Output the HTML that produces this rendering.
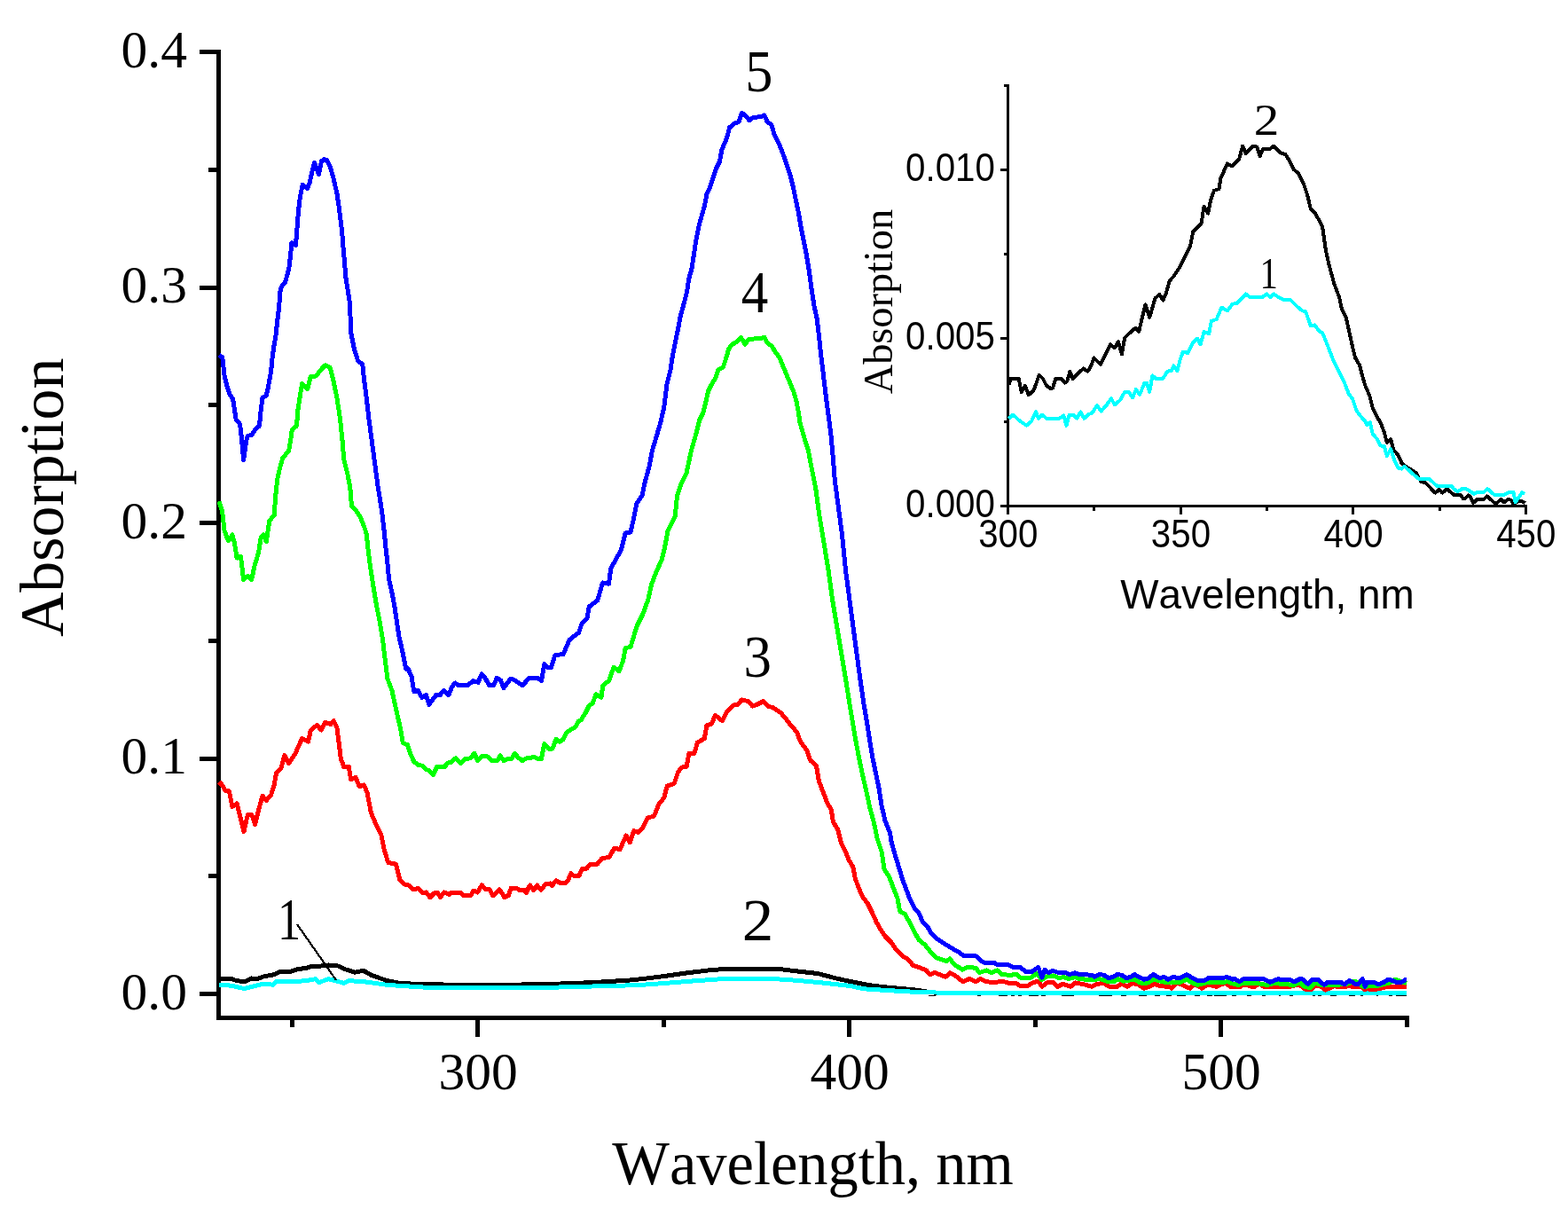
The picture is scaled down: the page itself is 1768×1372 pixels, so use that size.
<!DOCTYPE html><html><head><meta charset="utf-8"><title>Absorption spectra</title><style>html,body{margin:0;padding:0;background:#fff;overflow:hidden;}svg{display:block;}text{font-kerning:none;}</style></head><body>
<svg width="1768" height="1372" viewBox="0 0 1768 1372" shape-rendering="crispEdges">
<rect width="1768" height="1372" fill="#fff"/>
<g stroke="#000" stroke-width="5" fill="none"><line x1="225" y1="1120.5" x2="249" y2="1120.5"/><line x1="225" y1="855.0" x2="249" y2="855.0"/><line x1="225" y1="589.5" x2="249" y2="589.5"/><line x1="225" y1="324.0" x2="249" y2="324.0"/><line x1="225" y1="58.5" x2="249" y2="58.5"/><line x1="235" y1="987.8" x2="249" y2="987.8"/><line x1="235" y1="722.2" x2="249" y2="722.2"/><line x1="235" y1="456.8" x2="249" y2="456.8"/><line x1="235" y1="191.2" x2="249" y2="191.2"/><line x1="538.6" y1="1145" x2="538.6" y2="1169"/><line x1="957.6" y1="1145" x2="957.6" y2="1169"/><line x1="1376.6" y1="1145" x2="1376.6" y2="1169"/><line x1="329.1" y1="1145" x2="329.1" y2="1158"/><line x1="748.1" y1="1145" x2="748.1" y2="1158"/><line x1="1167.1" y1="1145" x2="1167.1" y2="1158"/><line x1="1586.1" y1="1145" x2="1586.1" y2="1158"/></g>
<path d="M246.5,56 V1147.5 H1588" stroke="#000" stroke-width="5" fill="none" stroke-linejoin="miter"/>
<polyline points="246.8,1103.4 260.4,1103.4 267.1,1105.7 276.6,1106.6 283.4,1103.0 290.2,1103.4 297.0,1101.0 307.9,1098.9 316.0,1095.5 326.9,1095.5 335.0,1092.8 345.9,1091.2 351.3,1089.4 362.2,1089.0 370.3,1088.0 381.2,1089.0 389.3,1092.8 400.2,1096.2 409.7,1094.2 419.2,1099.6 436.8,1105.7 450.4,1108.4 480.0,1109.8 554.8,1110.6 611.4,1109.6 639.7,1108.8 668.0,1107.6 696.2,1105.9 710.0,1105.0 724.1,1103.6 745.4,1101.0 773.6,1097.0 801.9,1093.5 823.1,1092.2 851.4,1092.2 876.9,1092.2 893.8,1094.4 922.1,1097.5 943.3,1103.1 960.0,1106.7 967.1,1108.1 980.7,1110.8 998.4,1112.9 1013.3,1114.2 1035.0,1116.3 1051.3,1119.0 1100.0,1119.5 1586.0,1119.5" fill="none" stroke="#000000" stroke-width="5" stroke-linejoin="round" stroke-linecap="butt"/>
<polyline points="246.8,1110.4 260.4,1111.1 275.3,1114.5 287.5,1111.5 297.0,1109.1 307.9,1110.2 311.9,1106.4 321.4,1106.1 335.0,1106.6 348.6,1105.0 355.4,1103.7 359.5,1107.7 370.3,1103.7 375.7,1105.0 388.0,1108.4 393.4,1105.7 409.7,1106.6 436.8,1110.4 480.0,1113.2 554.8,1113.5 611.4,1113.5 668.0,1112.0 720.0,1110.6 745.4,1108.8 780.7,1106.0 801.9,1104.5 823.1,1103.1 865.5,1103.1 893.8,1105.0 922.1,1107.4 960.0,1111.6 967.1,1113.6 980.7,1115.6 1001.1,1116.3 1014.7,1117.6 1035.0,1118.3 1055.4,1119.0 1075.7,1119.5 1586.0,1119.5" fill="none" stroke="#00ffff" stroke-width="5" stroke-linejoin="round" stroke-linecap="butt"/>
<polyline points="247.0,881.5 250.5,885.0 254.0,891.1 258.4,892.0 261.9,909.4 267.1,905.9 269.7,916.4 275.0,937.4 279.4,918.2 283.7,918.2 287.6,929.6 291.6,912.9 296.0,897.2 300.3,902.4 305.6,896.3 309.1,885.0 311.7,871.0 317.0,865.7 320.8,851.7 325.7,860.5 332.7,850.0 340.6,832.5 347.6,836.0 350.2,823.7 357.2,817.6 362.4,822.9 366.8,814.1 372.9,816.7 376.1,812.4 379.9,820.2 382.6,841.2 384.3,855.2 387.8,864.8 393.1,864.0 395.7,878.8 400.9,876.2 405.3,886.7 410.5,885.0 414.0,893.7 418.4,916.4 423.7,928.7 429.8,940.9 433.3,958.4 437.7,972.4 446.4,974.2 450.8,991.7 456.0,996.9 460.4,997.8 465.6,1003.0 471.8,1001.3 476.2,1006.6 480.6,1006.0 484.9,1011.6 489.3,1007.2 493.0,1006.0 496.8,1011.6 500.5,1006.0 506.7,1008.4 508.6,1006.0 519.2,1006.0 522.3,1009.7 530.4,1009.7 534.1,1004.1 538.4,1006.0 543.4,997.9 547.8,1002.8 552.1,1002.8 555.9,1009.7 563.3,1002.8 568.9,1011.6 573.3,1009.7 576.4,1001.0 582.0,1001.0 585.7,1003.5 591.3,1003.5 593.2,1006.6 597.6,997.9 601.9,1003.5 605.6,997.9 610.0,1003.5 615.0,996.6 620.6,996.0 622.4,998.5 626.8,992.9 631.8,995.4 637.4,995.4 640.5,992.3 643.6,984.8 646.7,987.3 652.9,987.3 656.7,979.2 661.6,979.2 665.4,974.2 673.5,974.2 678.4,968.0 687.1,966.1 692.8,956.0 699.0,957.7 706.0,942.0 710.3,949.9 714.7,936.7 720.0,938.5 725.2,932.4 730.4,921.9 737.4,920.1 742.7,907.0 748.8,899.1 752.3,886.0 760.2,883.4 764.6,870.3 768.9,865.0 774.2,864.2 776.8,849.3 782.9,849.3 786.4,837.1 794.3,832.7 796.9,817.8 802.2,816.1 806.5,806.5 814.4,812.6 819.6,802.1 826.6,795.1 831.9,794.2 836.3,789.0 844.1,790.7 848.5,796.0 853.7,794.2 860.7,790.7 865.8,796.2 871.7,797.7 880.4,803.5 887.7,812.3 892.1,818.1 898.6,825.4 902.3,835.6 909.6,845.8 913.9,857.5 920.5,863.3 923.4,880.8 928.5,893.9 932.9,905.6 937.3,912.9 939.4,926.7 944.5,934.7 948.2,949.3 953.6,960.9 957.6,970.4 961.7,977.1 964.4,990.7 968.5,1001.6 972.6,1011.1 978.0,1017.9 983.4,1028.7 988.2,1039.6 992.9,1047.7 998.4,1055.9 1005.2,1062.7 1010.6,1070.8 1017.4,1077.6 1024.2,1081.7 1029.6,1088.5 1037.7,1091.2 1044.5,1093.9 1048.6,1098.6 1054.0,1096.6 1059.5,1098.6 1066.2,1101.4 1071.0,1096.6 1077.1,1100.0 1085.9,1106.8 1093.4,1103.4 1100.2,1106.8 1105.6,1103.4 1112.4,1106.8 1121.9,1107.5 1130.0,1106.1 1136.8,1108.1 1146.3,1108.8 1150.4,1111.5 1158.5,1111.5 1164.0,1108.1 1170.8,1106.1 1175.0,1112.3 1180.0,1108.0 1187.4,1107.3 1192.4,1112.3 1198.6,1109.2 1207.3,1112.3 1212.3,1108.0 1222.3,1109.8 1231.0,1112.3 1237.2,1109.2 1244.7,1108.6 1250.9,1112.3 1259.6,1112.3 1264.6,1108.6 1270.8,1112.3 1277.0,1108.6 1283.2,1109.8 1289.5,1114.2 1294.4,1112.9 1301.9,1109.2 1308.1,1111.7 1318.1,1112.3 1321.2,1114.2 1326.8,1108.0 1333.0,1110.4 1341.7,1114.2 1346.7,1109.2 1355.4,1114.2 1361.6,1109.8 1371.6,1112.3 1381.5,1108.0 1387.5,1112.3 1397.4,1112.9 1402.4,1109.8 1407.4,1111.1 1413.6,1112.9 1419.8,1108.6 1426.0,1112.9 1439.7,1112.9 1454.7,1112.3 1464.6,1109.8 1472.1,1115.4 1478.3,1115.4 1483.3,1111.1 1489.5,1112.3 1494.5,1116.0 1504.4,1111.7 1511.9,1112.9 1521.9,1111.7 1526.8,1112.9 1535.5,1112.9 1538.0,1115.4 1541.8,1114.8 1548.0,1116.0 1559.2,1113.6 1564.2,1112.3 1586.0,1112.3" fill="none" stroke="#ff0000" stroke-width="5" stroke-linejoin="round" stroke-linecap="butt"/>
<polyline points="247.0,565.2 250.5,575.7 253.1,598.5 257.5,609.9 261.9,602.9 264.5,612.5 267.1,629.1 271.5,627.3 274.6,653.6 279.4,649.2 283.7,653.6 287.2,637.0 291.6,623.0 294.2,605.5 296.8,602.9 300.3,610.7 303.8,587.1 309.1,581.0 310.8,558.6 312.6,541.2 315.2,528.9 318.7,516.7 325.7,507.9 327.5,497.4 329.2,485.2 334.5,480.0 335.9,462.4 338.0,448.4 340.6,432.7 346.7,438.8 350.2,424.8 356.3,424.0 361.6,417.0 366.8,411.7 372.1,414.3 375.6,427.5 379.9,448.4 383.4,471.2 386.1,497.4 387.8,518.4 392.2,535.9 394.8,549.9 396.5,570.9 400.9,574.9 406.2,582.7 410.5,593.2 413.2,602.0 414.9,617.7 417.5,638.7 421.0,661.5 424.5,682.4 428.0,699.9 431.5,720.9 434.2,743.7 436.8,764.7 442.0,778.7 447.3,802.7 451.7,822.0 454.3,837.7 459.5,839.5 462.3,848.6 466.8,858.8 471.3,862.2 476.4,863.3 480.9,867.8 483.8,868.4 488.3,873.5 492.8,864.4 501.3,864.4 505.2,859.9 508.6,859.3 513.7,854.8 519.4,860.5 525.0,855.4 530.7,854.8 534.7,849.2 538.6,857.6 543.7,852.0 548.2,852.0 555.0,857.6 560.7,857.6 564.1,852.0 568.0,857.6 573.1,855.4 577.1,855.4 580.5,849.2 584.4,854.3 589.0,857.6 593.5,854.8 597.4,854.8 601.4,853.1 605.9,855.4 610.5,855.4 613.8,838.4 618.4,844.1 622.9,844.1 626.9,833.3 630.8,836.2 634.8,833.9 638.7,826.0 643.3,822.6 648.3,820.3 652.3,813.0 655.2,811.7 660.5,803.0 664.0,796.0 668.4,792.5 671.9,782.8 678.0,786.3 679.7,773.2 686.7,767.1 692.0,752.2 698.1,756.6 702.5,745.2 705.2,730.5 711.0,729.4 718.0,706.0 725.0,692.0 730.9,675.7 734.4,659.4 740.2,644.2 746.0,631.4 749.5,617.4 753.0,598.7 761.2,582.4 763.5,559.0 768.2,545.0 774.0,533.3 776.9,520.0 779.3,508.5 782.5,497.2 785.7,486.0 788.9,473.2 792.9,465.2 796.1,452.3 798.5,441.1 802.5,433.1 806.5,426.7 809.8,417.1 815.4,413.9 818.6,404.2 821.8,393.0 825.8,388.2 831.4,385.0 835.4,380.2 840.2,388.2 844.2,382.6 852.3,381.8 857.9,381.8 861.9,380.2 865.1,386.6 869.9,389.8 873.9,396.2 878.7,402.6 882.7,412.3 886.7,421.9 890.7,431.5 894.7,441.1 898.0,452.3 900.4,465.2 902.0,476.4 905.2,487.6 908.4,498.8 911.6,508.5 913.7,520.4 919.8,551.0 923.9,581.6 929.0,612.2 934.1,642.9 938.2,673.5 943.3,704.1 948.4,734.7 953.5,765.3 957.7,791.9 961.3,813.7 965.0,835.6 968.6,854.5 972.2,872.0 976.6,891.0 981.0,911.4 985.4,927.4 989.0,944.9 994.3,960.9 997.0,979.9 1002.4,988.0 1006.5,998.9 1011.9,1012.4 1014.7,1027.4 1020.1,1030.1 1025.5,1039.6 1030.9,1050.4 1036.4,1060.0 1043.2,1065.4 1048.6,1072.2 1056.7,1080.3 1062.2,1081.7 1066.9,1083.7 1071.0,1081.0 1075.7,1087.1 1085.2,1093.2 1090.7,1090.5 1100.2,1091.2 1104.2,1096.6 1112.4,1093.9 1117.8,1096.6 1124.6,1093.9 1130.0,1098.6 1138.2,1099.3 1146.3,1098.6 1150.4,1102.0 1162.6,1102.0 1169.4,1097.3 1174.4,1104.8 1180.0,1101.1 1187.4,1099.9 1193.6,1102.4 1199.9,1101.7 1204.8,1103.6 1212.3,1101.7 1217.3,1103.6 1232.2,1104.8 1239.7,1103.6 1249.6,1106.7 1257.1,1106.1 1260.8,1103.6 1267.1,1106.1 1279.5,1104.2 1285.7,1108.0 1294.4,1108.0 1300.7,1104.2 1313.1,1107.3 1319.3,1108.0 1330.5,1107.3 1338.6,1104.2 1344.2,1108.0 1350.4,1110.4 1356.6,1108.6 1364.1,1107.3 1379.1,1107.3 1384.4,1106.7 1388.7,1108.6 1396.2,1110.4 1402.4,1108.0 1417.3,1108.6 1428.5,1110.4 1439.7,1108.0 1444.7,1109.8 1450.9,1109.2 1457.2,1111.1 1465.9,1108.0 1470.8,1112.3 1477.1,1113.6 1483.3,1108.0 1489.5,1110.4 1499.5,1110.4 1516.9,1109.8 1528.1,1106.1 1538.0,1112.9 1545.5,1111.1 1554.2,1111.1 1566.6,1108.0 1572.9,1104.2 1579.1,1106.1 1586.0,1108.6" fill="none" stroke="#00ff00" stroke-width="5" stroke-linejoin="round" stroke-linecap="butt"/>
<polyline points="247.0,400.3 250.8,403.0 253.1,424.0 255.7,434.5 259.2,445.0 262.7,450.2 264.5,462.4 266.2,473.0 270.6,478.2 272.4,494.0 274.6,518.4 277.6,497.4 279.4,491.3 283.7,490.4 287.2,485.2 292.5,480.0 294.2,462.4 296.0,448.4 300.3,445.8 302.1,438.0 305.6,418.7 307.3,401.2 309.1,389.0 310.8,380.2 312.6,362.7 314.6,346.6 316.1,327.6 317.3,323.3 321.6,318.2 323.8,310.1 326.0,301.4 327.5,288.3 328.9,273.7 333.3,276.6 334.5,265.0 335.5,250.4 336.5,238.7 337.7,227.0 339.1,218.3 341.3,208.1 346.4,212.5 349.0,206.6 351.5,195.0 354.4,183.3 359.5,196.4 362.4,181.9 365.4,179.7 368.3,180.4 371.9,187.0 375.6,199.4 380.0,218.3 382.1,232.9 384.3,250.4 385.8,262.0 386.5,273.7 387.5,283.9 388.7,298.5 390.1,314.5 392.3,327.6 394.5,342.2 395.7,375.0 399.2,392.5 403.5,406.5 408.8,410.8 410.5,427.5 413.2,448.4 415.8,471.2 419.3,497.4 422.8,523.7 426.3,549.9 428.0,560.0 430.7,577.5 433.3,600.2 435.0,617.7 436.8,633.5 438.5,652.7 442.0,668.4 444.7,682.4 447.3,699.9 449.9,717.4 454.3,736.7 457.8,754.2 460.0,753.6 464.0,762.6 466.8,779.6 471.3,778.5 475.8,786.4 480.4,783.6 483.8,794.3 491.7,783.6 496.2,783.6 500.2,778.5 505.8,783.6 509.8,773.9 513.2,770.0 516.6,772.8 526.7,772.8 533.5,767.7 539.2,769.4 543.1,759.8 547.1,764.3 551.6,772.8 556.7,772.8 560.1,764.3 564.6,767.1 568.0,775.6 575.4,765.5 578.8,766.0 589.0,772.8 596.9,764.3 606.5,764.3 610.5,767.7 613.8,748.5 618.4,753.0 621.2,752.7 625.8,738.7 635.2,737.5 642.2,721.2 652.7,713.0 656.2,702.5 662.0,696.7 664.3,683.9 673.7,676.9 679.5,657.0 686.5,658.2 688.8,640.7 694.7,630.2 700.5,619.7 705.2,601.0 711.0,599.9 714.5,584.7 718.0,567.2 723.9,559.0 727.4,542.7 732.0,526.3 735.5,507.7 739.0,496.0 744.8,476.4 748.8,458.8 752.0,433.1 756.0,417.1 758.4,401.0 761.6,385.0 764.9,369.0 767.3,356.1 771.3,341.7 774.5,329.0 776.9,313.7 780.1,302.4 782.5,286.4 784.9,270.4 788.1,254.3 791.3,243.1 794.5,231.9 796.9,219.0 800.1,212.6 803.3,203.0 807.4,190.2 811.4,182.2 813.8,169.3 817.8,159.7 820.2,153.3 822.6,143.7 827.4,139.7 833.0,137.3 836.2,127.6 839.4,129.2 845.0,135.7 849.0,132.5 858.7,131.6 861.9,130.0 865.1,137.3 869.9,140.5 873.1,151.7 877.9,161.3 881.9,170.9 885.9,182.2 890.7,196.6 894.7,212.6 898.0,228.7 900.4,239.9 902.8,254.3 906.0,270.4 909.2,286.4 912.4,305.6 914.8,324.0 918.0,344.9 921.2,359.3 923.6,380.2 925.2,396.2 927.6,415.5 930.0,436.3 932.4,455.5 934.8,473.2 937.2,492.4 939.6,520.0 941.2,540.8 945.3,571.4 949.4,602.0 953.5,642.9 957.6,673.5 961.6,704.1 965.7,734.7 970.1,767.0 973.7,791.9 978.1,818.1 981.0,837.1 983.9,854.5 987.6,872.0 991.2,889.5 994.1,908.5 997.8,924.5 1003.6,939.1 1005.2,950.0 1009.2,963.6 1013.3,977.1 1017.4,990.7 1021.4,1001.6 1025.5,1012.4 1030.9,1023.3 1036.4,1030.1 1040.4,1039.6 1045.9,1045.0 1049.9,1051.8 1056.7,1058.6 1064.9,1064.0 1071.7,1068.1 1081.2,1073.5 1086.6,1077.6 1100.2,1077.6 1105.6,1083.0 1111.0,1085.7 1121.9,1085.7 1124.6,1087.8 1136.8,1087.8 1142.3,1090.5 1150.4,1090.5 1157.2,1095.9 1162.6,1095.9 1170.8,1090.5 1174.8,1102.0 1178.2,1093.2 1182.4,1096.8 1186.8,1094.3 1192.4,1096.1 1199.9,1096.1 1206.1,1098.6 1212.3,1096.8 1217.3,1098.6 1231.0,1099.2 1234.1,1101.1 1239.7,1098.6 1244.7,1099.2 1249.6,1102.4 1254.6,1101.7 1259.6,1098.6 1264.6,1099.2 1269.6,1102.4 1274.5,1101.7 1279.5,1098.6 1284.5,1101.7 1289.5,1104.2 1294.4,1103.0 1300.7,1098.6 1306.9,1102.4 1313.1,1101.7 1316.8,1104.2 1321.8,1101.7 1330.5,1102.4 1338.0,1098.6 1344.2,1102.4 1350.4,1105.5 1357.9,1105.5 1362.9,1102.4 1376.6,1102.4 1384.0,1101.7 1390.0,1104.2 1392.4,1103.6 1397.4,1106.7 1402.4,1103.6 1424.8,1103.6 1432.3,1107.3 1441.0,1103.6 1444.7,1104.8 1454.7,1104.8 1459.6,1106.7 1465.9,1103.6 1469.6,1104.2 1474.6,1109.2 1479.6,1104.2 1485.8,1104.2 1493.2,1110.4 1497.0,1107.3 1511.9,1107.3 1515.6,1109.8 1521.9,1105.5 1528.1,1109.2 1531.8,1109.2 1536.2,1103.6 1539.3,1112.3 1541.8,1107.3 1549.2,1107.3 1554.2,1109.8 1560.4,1107.3 1565.4,1104.2 1570.4,1105.5 1574.1,1107.3 1580.3,1107.3 1584.1,1104.8 1586.0,1104.8" fill="none" stroke="#0000ff" stroke-width="5" stroke-linejoin="round" stroke-linecap="butt"/>
<path d="M1047.2,1122.5H1054.7M1101.5,1122.5H1106.3M1126.0,1122.5H1135.5M1139.5,1122.5H1143.6M1147.7,1122.5H1151.8M1159.9,1122.5H1170.8M1173.5,1122.5H1178.7M1196.8,1122.5H1211.0M1239.0,1122.5H1254.0M1264.0,1122.5H1269.6M1283.9,1122.5H1293.2M1301.9,1122.5H1307.5M1315.0,1122.5H1320.6M1326.8,1122.5H1336.8M1346.7,1122.5H1352.9M1361.0,1122.5H1366.6M1369.0,1122.5H1382.8M1389.3,1122.5H1393.7M1406.1,1122.5H1410.5M1422.9,1122.5H1427.3M1442.2,1122.5H1444.1M1454.0,1122.5H1457.8M1479.6,1122.5H1483.3M1485.8,1122.5H1489.5M1500.1,1122.5H1507.0M1521.2,1122.5H1528.1M1534.3,1122.5H1536.8M1552.4,1122.5H1553.5M1566.0,1122.5H1570.4M1574.1,1122.5H1586.0" stroke="#000" stroke-width="1.2" fill="none"/>
<line x1="335" y1="1042" x2="379" y2="1105" stroke="#000" stroke-width="2.2"/>
<g stroke="#000" stroke-width="3" fill="none"><line x1="1128" y1="570.5" x2="1138" y2="570.5"/><line x1="1128" y1="381.0" x2="1138" y2="381.0"/><line x1="1128" y1="191.5" x2="1138" y2="191.5"/><line x1="1132" y1="475.8" x2="1138" y2="475.8"/><line x1="1132" y1="286.2" x2="1138" y2="286.2"/><line x1="1132" y1="96.8" x2="1138" y2="96.8"/><line x1="1136.5" y1="569" x2="1136.5" y2="580"/><line x1="1331.2" y1="569" x2="1331.2" y2="580"/><line x1="1525.8" y1="569" x2="1525.8" y2="580"/><line x1="1720.4" y1="569" x2="1720.4" y2="580"/><line x1="1233.8" y1="569" x2="1233.8" y2="576"/><line x1="1428.5" y1="569" x2="1428.5" y2="576"/><line x1="1623.1" y1="569" x2="1623.1" y2="576"/></g>
<path d="M1136.5,95 V570.5 H1722" stroke="#000" stroke-width="3" fill="none"/>
<polyline points="1137.4,434.0 1139.8,426.8 1148.6,426.8 1151.8,442.0 1155.8,434.8 1159.9,445.2 1164.7,441.2 1167.9,434.0 1171.6,422.7 1175.9,426.8 1179.9,434.8 1184.7,438.0 1187.1,437.2 1190.3,426.8 1196.0,426.8 1200.8,431.6 1203.2,430.0 1206.4,418.7 1209.6,426.8 1214.4,421.9 1221.6,415.5 1226.4,418.7 1229.6,413.9 1233.6,403.5 1240.9,410.7 1245.7,401.1 1252.1,388.3 1256.9,392.3 1260.9,385.1 1264.9,399.5 1268.1,381.0 1272.9,376.2 1280.1,369.8 1284.2,373.8 1286.6,363.4 1291.4,343.4 1296.2,357.8 1302.6,336.1 1307.4,332.1 1311.4,338.5 1314.6,331.3 1318.6,316.9 1323.5,311.3 1329.9,301.7 1335.7,289.8 1342.3,276.5 1345.2,261.3 1354.6,251.8 1357.5,232.9 1362.2,240.5 1365.1,225.3 1368.9,214.9 1374.5,213.0 1376.4,200.7 1384.0,184.5 1388.8,187.4 1397.3,178.9 1401.1,164.6 1404.9,173.2 1412.5,164.6 1417.2,165.6 1420.6,176.0 1423.8,168.4 1431.4,168.4 1436.2,164.6 1443.7,172.2 1449.4,174.1 1454.2,181.7 1458.9,191.2 1463.6,195.0 1470.3,208.2 1474.1,219.6 1477.9,235.7 1483.6,241.4 1491.1,255.6 1494.9,282.2 1498.7,299.2 1504.4,320.1 1510.1,335.3 1512.9,348.5 1517.7,358.0 1521.5,375.1 1525.2,391.7 1528.1,403.3 1533.2,412.1 1536.1,423.7 1539.0,433.9 1544.1,445.6 1547.8,460.1 1552.1,468.9 1557.2,477.6 1560.9,487.8 1563.8,498.8 1568.2,495.1 1571.1,506.8 1576.2,512.6 1580.5,522.1 1584.9,525.7 1596.6,533.0 1602.4,543.2 1606.8,543.9 1618.4,555.6 1622.8,551.9 1626.4,555.6 1631.5,551.2 1640.0,558.5 1647.0,558.1 1649.6,562.0 1652.2,562.0 1655.3,558.5 1657.5,559.8 1661.4,566.8 1665.4,562.9 1673.2,562.9 1676.7,559.4 1681.1,563.3 1686.4,568.1 1692.5,562.9 1696.0,566.4 1700.4,562.9 1703.9,563.7 1706.5,568.1 1710.0,565.9 1715.2,564.6 1719.6,567.2" fill="none" stroke="#000000" stroke-width="4.0" stroke-linejoin="round"/>
<polyline points="1137.4,471.7 1142.2,467.6 1149.4,474.1 1157.5,479.7 1163.1,474.9 1167.9,464.4 1171.1,471.7 1175.1,467.6 1179.9,471.7 1194.3,471.7 1199.2,468.5 1202.4,479.7 1205.6,467.6 1210.4,467.6 1214.4,471.7 1218.4,464.4 1222.4,471.7 1228.0,466.8 1231.2,466.0 1236.8,457.2 1241.7,463.6 1247.3,457.2 1252.9,449.2 1256.9,456.4 1263.3,450.8 1268.1,442.0 1272.9,442.0 1277.0,448.4 1281.0,438.8 1285.0,445.2 1290.6,431.6 1293.0,431.6 1296.2,442.0 1299.4,423.5 1303.4,426.8 1311.4,426.8 1316.2,418.7 1321.0,417.9 1323.5,412.3 1327.5,417.9 1330.7,405.1 1333.8,396.9 1339.5,397.8 1345.2,386.4 1349.9,381.7 1353.7,388.3 1357.5,374.1 1363.2,376.0 1366.0,361.8 1371.7,359.9 1377.4,346.6 1384.0,350.4 1389.7,342.8 1394.5,341.9 1404.9,331.5 1409.6,335.3 1422.9,335.3 1428.6,331.5 1432.4,335.3 1436.2,331.5 1441.8,335.3 1447.5,338.1 1455.1,338.1 1462.7,345.7 1468.4,350.4 1472.2,351.4 1477.9,367.5 1482.6,366.5 1487.3,373.2 1491.1,375.1 1494.9,384.5 1498.9,394.6 1503.3,406.2 1509.1,417.9 1515.7,431.0 1520.8,444.1 1525.2,449.9 1529.5,463.1 1533.9,468.9 1539.0,474.7 1541.2,479.1 1544.8,476.2 1547.8,489.3 1552.9,495.1 1556.5,502.4 1560.9,503.1 1563.8,514.1 1568.2,506.0 1572.5,519.9 1576.9,527.9 1580.5,528.6 1583.5,525.7 1590.7,532.3 1599.5,539.6 1611.1,539.6 1619.9,547.6 1635.9,547.6 1640.0,551.9 1643.5,554.1 1648.7,551.1 1654.0,551.5 1661.9,556.7 1665.4,555.0 1673.2,554.6 1677.2,551.1 1684.6,557.6 1696.9,557.6 1701.2,555.0 1706.5,555.0 1708.7,566.4 1712.6,560.7 1716.1,555.4 1719.2,556.7" fill="none" stroke="#00ffff" stroke-width="4.0" stroke-linejoin="round"/>
<text transform="translate(136.52,1137.60)" font-family="'Liberation Serif', serif" font-size="59.5" text-anchor="start" fill="#000">0.0</text>
<text transform="translate(136.52,872.10)" font-family="'Liberation Serif', serif" font-size="59.5" text-anchor="start" fill="#000">0.1</text>
<text transform="translate(136.52,606.60)" font-family="'Liberation Serif', serif" font-size="59.5" text-anchor="start" fill="#000">0.2</text>
<text transform="translate(136.52,341.10)" font-family="'Liberation Serif', serif" font-size="59.5" text-anchor="start" fill="#000">0.3</text>
<text transform="translate(136.52,75.60)" font-family="'Liberation Serif', serif" font-size="59.5" text-anchor="start" fill="#000">0.4</text>
<text transform="translate(539.10,1227.70)" font-family="'Liberation Serif', serif" font-size="59.5" text-anchor="middle" fill="#000">300</text>
<text transform="translate(958.10,1227.70)" font-family="'Liberation Serif', serif" font-size="59.5" text-anchor="middle" fill="#000">400</text>
<text transform="translate(1377.10,1227.70)" font-family="'Liberation Serif', serif" font-size="59.5" text-anchor="middle" fill="#000">500</text>
<text transform="translate(840.25,103.33) scale(0.9300,1)" font-family="'Liberation Serif', serif" font-size="67" text-anchor="start" fill="#000">5</text>
<text transform="translate(835.76,351.60) scale(0.9100,1)" font-family="'Liberation Serif', serif" font-size="67" text-anchor="start" fill="#000">4</text>
<text transform="translate(838.49,763.13) scale(0.9400,1)" font-family="'Liberation Serif', serif" font-size="67" text-anchor="start" fill="#000">3</text>
<text transform="translate(836.76,1059.80) scale(1.0600,1)" font-family="'Liberation Serif', serif" font-size="67" text-anchor="start" fill="#000">2</text>
<text transform="translate(313.00,1059.10) scale(0.7800,1)" font-family="'Liberation Serif', serif" font-size="67" text-anchor="start" fill="#000">1</text>
<text transform="translate(1413.69,152.00) scale(1.1200,1)" font-family="'Liberation Serif', serif" font-size="51" text-anchor="start" fill="#000">2</text>
<text transform="translate(1420.59,324.80) scale(0.8000,1)" font-family="'Liberation Serif', serif" font-size="51" text-anchor="start" fill="#000">1</text>
<text transform="translate(690.30,1335.20) scale(0.9839,1)" font-family="'Liberation Serif', serif" font-size="69.6" text-anchor="start" fill="#000">Wavelength, nm</text>
<text transform="translate(71.10,718.10) rotate(-90) scale(1.0056,1)" font-family="'Liberation Serif', serif" font-size="69.5" text-anchor="start" fill="#000">Absorption</text>
<text transform="translate(1121.80,582.50) scale(0.9150,1)" font-family="'Liberation Sans', serif" font-size="44.0" text-anchor="end" fill="#000">0.000</text>
<text transform="translate(1121.80,393.60) scale(0.9150,1)" font-family="'Liberation Sans', serif" font-size="44.0" text-anchor="end" fill="#000">0.005</text>
<text transform="translate(1121.80,203.60) scale(0.9150,1)" font-family="'Liberation Sans', serif" font-size="44.0" text-anchor="end" fill="#000">0.010</text>
<text transform="translate(1136.80,616.70) scale(0.9150,1)" font-family="'Liberation Sans', serif" font-size="44.0" text-anchor="middle" fill="#000">300</text>
<text transform="translate(1331.45,616.70) scale(0.9150,1)" font-family="'Liberation Sans', serif" font-size="44.0" text-anchor="middle" fill="#000">350</text>
<text transform="translate(1526.10,616.70) scale(0.9150,1)" font-family="'Liberation Sans', serif" font-size="44.0" text-anchor="middle" fill="#000">400</text>
<text transform="translate(1720.75,616.70) scale(0.9150,1)" font-family="'Liberation Sans', serif" font-size="44.0" text-anchor="middle" fill="#000">450</text>
<text transform="translate(1263.33,685.60) scale(0.9820,1)" font-family="'Liberation Sans', serif" font-size="46.7" text-anchor="start" fill="#000">Wavelength, nm</text>
<text transform="translate(1005.90,444.30) rotate(-90) scale(0.9968,1)" font-family="'Liberation Serif', serif" font-size="46.5" text-anchor="start" fill="#000">Absorption</text>
</svg></body></html>
